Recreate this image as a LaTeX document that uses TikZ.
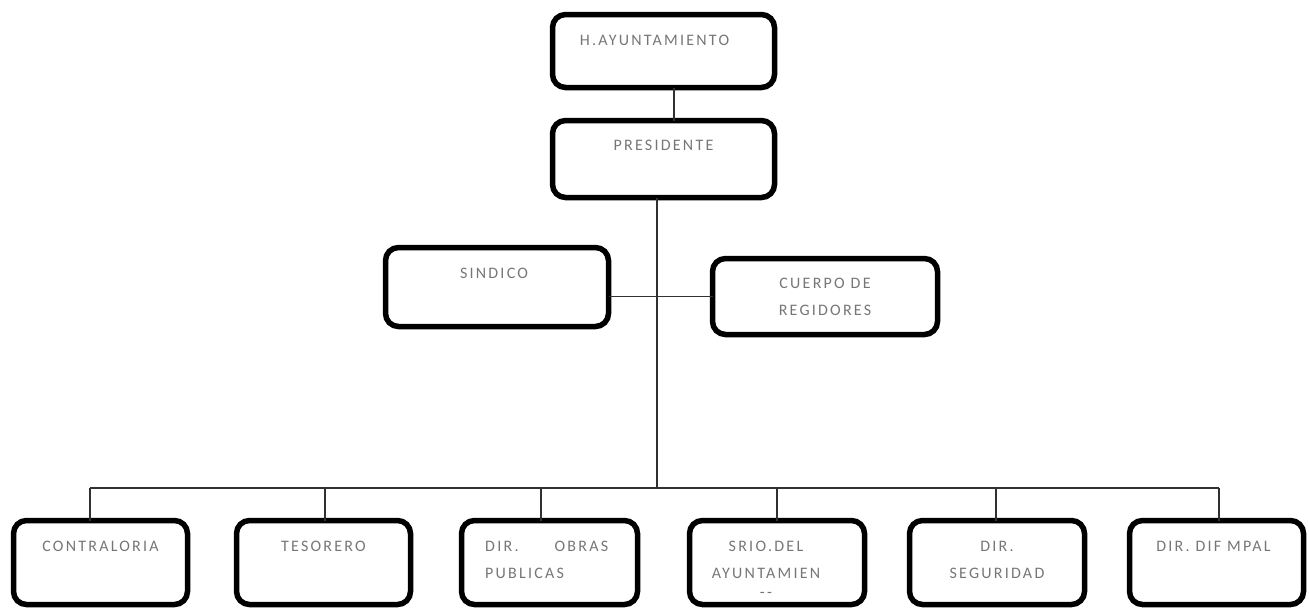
\documentclass[tikz,border=0pt]{standalone}
\usepackage{fontspec}
\newfontfamily\labfont[LetterSpace=14]{Carlito}
\definecolor{labgray}{HTML}{767676}
\definecolor{linegray}{HTML}{303030}
\begin{document}
\begin{tikzpicture}[x=1pt,y=-1pt,
  orgbox/.style={draw=black, line width=5.5pt, rounded corners=13pt, inner sep=0pt, outer sep=0pt},
  lbl/.style={text=labgray, font=\labfont\fontsize{16}{27}\selectfont, inner sep=0pt, anchor=north, align=center},
  conn/.style={draw=linegray, line width=1.8pt}]
\useasboundingbox (0,0) rectangle (1309,608);
% boxes
\node[orgbox, minimum width=222pt, minimum height=73pt] (H) at (663.5,51) {};
\node[orgbox, minimum width=222pt, minimum height=77pt] (P) at (663.5,159) {};
\node[orgbox, minimum width=223pt, minimum height=79pt] (S) at (497,287) {};
\node[orgbox, minimum width=225pt, minimum height=76pt] (R) at (825,296.5) {};
\node[orgbox, minimum width=174pt, minimum height=84pt] (C) at (100.5,562.5) {};
\node[orgbox, minimum width=174pt, minimum height=84pt] (T) at (323.5,562.5) {};
\node[orgbox, minimum width=176pt, minimum height=84pt] (O) at (549.5,562.5) {};
\node[orgbox, minimum width=175pt, minimum height=84pt] (Sr) at (777,562.5) {};
\node[orgbox, minimum width=175pt, minimum height=84pt] (D) at (997,562.5) {};
\node[orgbox, minimum width=174pt, minimum height=84pt] (F) at (1216.5,562.5) {};
% labels
\node[lbl] (tH) at (654.5,34.8) {H.AYUNTAMIENTO};
\node[lbl] (tP) at (663.5,139.8) {PRESIDENTE};
\node[lbl] (tS) at (494,267.8) {SINDICO};
\node[lbl] (tR) at (825,277.8) {CUERPO DE\\REGIDORES};
\node[lbl] (tC) at (100.5,540.8) {CONTRALORIA};
\node[lbl] (tT) at (323.5,540.8) {TESORERO};
\node[lbl, anchor=north west, text width=123pt, align=left] (tO) at (485,540.8) {DIR.\hfill OBRAS\\PUBLICAS};
\node[lbl] (tSr) at (766,540.8) {SRIO.DEL\\AYUNTAMIEN\\[-7.5pt]-{}-};
\node[lbl] (tD) at (997,540.8) {DIR.\\SEGURIDAD};
\node[lbl] (tF) at (1213.5,540.8) {DIR. DIF MPAL};
% connector coordinates
\coordinate (hp) at (674,0);
\coordinate (tr) at (657,488);
\coordinate (dC) at (90,488);
\coordinate (dT) at (325,488);
\coordinate (dO) at (541,488);
\coordinate (dS) at (777,488);
\coordinate (dD) at (996,488);
\coordinate (dF) at (1219,488);
% connectors
\draw[conn] (H.south -| hp) -- (P.north -| hp);
\draw[conn] (P.south -| tr) -- (tr);
\draw[conn] (S.east |- R.west) -- (R.west);
\draw[conn] (dC) -- (dF);
\foreach \d/\b in {dC/C, dT/T, dO/O, dS/Sr, dD/D, dF/F}
  \draw[conn] (\d) -- (\d |- \b.north);
\end{tikzpicture}
\end{document}
